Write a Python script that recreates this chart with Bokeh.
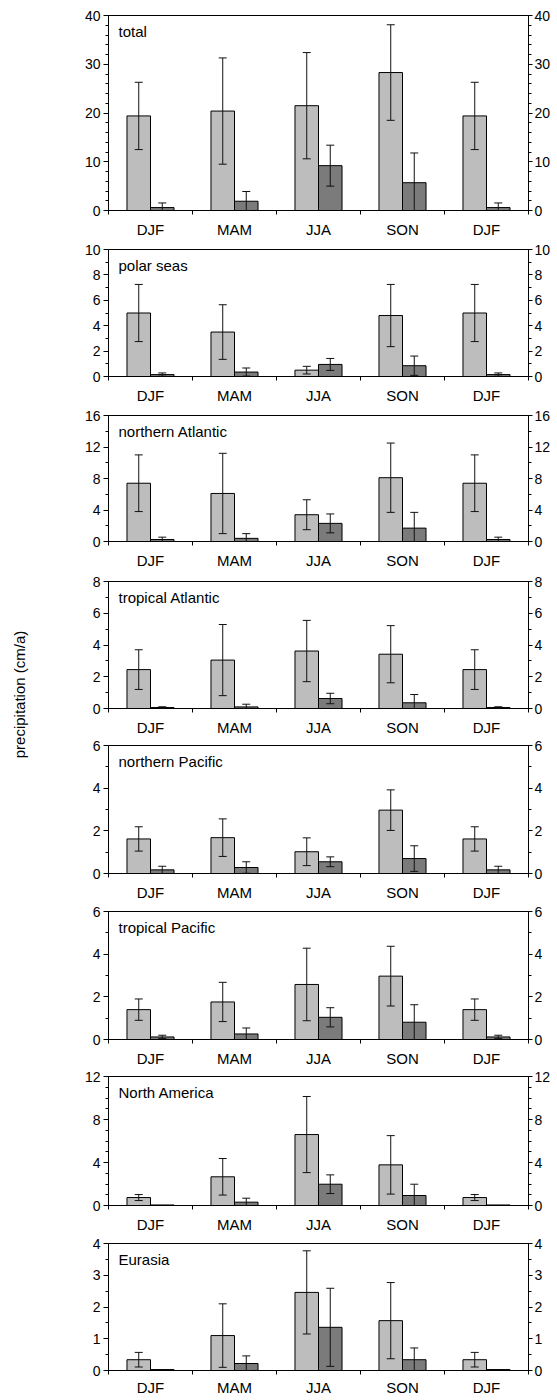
import math
from bokeh.plotting import figure
from bokeh.models import (Range1d, LinearAxis, FixedTicker, SingleIntervalTicker,
                          CustomJSTickFormatter, Whisker, TeeHead, ColumnDataSource, Label)
from bokeh.layouts import column, row
from bokeh.embed import file_html
from bokeh.resources import INLINE
from bokeh.core.properties import value

# ---------------- data ----------------
seasons = ["DJF", "MAM", "JJA", "SON", "DJF"]
regions = ["total", "polar seas", "northern Atlantic", "tropical Atlantic",
           "northern Pacific", "tropical Pacific", "North America", "Eurasia"]
y_max = [40, 10, 16, 8, 6, 6, 12, 4]
y_step = [10, 2, 4, 2, 2, 2, 4, 1]
y_minor = [5, 2, 2, 2, 2, 2, 4, 2]

total_light = [19.4, 20.4, 21.5, 28.3, 19.4]
total_light_err = [6.9, 10.9, 10.9, 9.8, 6.9]
total_dark = [0.6, 1.9, 9.2, 5.7, 0.6]
total_dark_err = [0.95, 2.0, 4.2, 6.1, 0.95]

polar_light = [5.0, 3.5, 0.5, 4.8, 5.0]
polar_light_err = [2.25, 2.15, 0.3, 2.45, 2.25]
polar_dark = [0.15, 0.35, 0.95, 0.85, 0.15]
polar_dark_err = [0.13, 0.32, 0.47, 0.76, 0.13]

natl_light = [7.4, 6.1, 3.4, 8.1, 7.4]
natl_light_err = [3.6, 5.1, 1.9, 4.4, 3.6]
natl_dark = [0.25, 0.4, 2.3, 1.7, 0.25]
natl_dark_err = [0.3, 0.6, 1.2, 2.0, 0.3]

tatl_light = [2.45, 3.05, 3.62, 3.42, 2.45]
tatl_light_err = [1.25, 2.24, 1.93, 1.8, 1.25]
tatl_dark = [0.06, 0.1, 0.63, 0.36, 0.06]
tatl_dark_err = [0.05, 0.17, 0.33, 0.52, 0.05]

npac_light = [1.62, 1.68, 1.02, 2.97, 1.62]
npac_light_err = [0.57, 0.88, 0.65, 0.95, 0.57]
npac_dark = [0.17, 0.28, 0.55, 0.7, 0.17]
npac_dark_err = [0.17, 0.27, 0.23, 0.6, 0.17]

tpac_light = [1.4, 1.76, 2.58, 2.97, 1.4]
tpac_light_err = [0.5, 0.92, 1.7, 1.4, 0.5]
tpac_dark = [0.12, 0.26, 1.04, 0.81, 0.12]
tpac_dark_err = [0.08, 0.28, 0.45, 0.82, 0.08]

nam_light = [0.74, 2.67, 6.6, 3.78, 0.74]
nam_light_err = [0.28, 1.7, 3.54, 2.72, 0.28]
nam_dark = [0.05, 0.31, 1.98, 0.93, 0.05]
nam_dark_err = [0.0, 0.37, 0.87, 1.05, 0.0]

eur_light = [0.34, 1.1, 2.46, 1.57, 0.34]
eur_light_err = [0.23, 1.0, 1.31, 1.2, 0.23]
eur_dark = [0.03, 0.22, 1.36, 0.34, 0.03]
eur_dark_err = [0.0, 0.24, 1.23, 0.37, 0.0]

light_series = [total_light, polar_light, natl_light, tatl_light,
                npac_light, tpac_light, nam_light, eur_light]
light_errors = [total_light_err, polar_light_err, natl_light_err, tatl_light_err,
                npac_light_err, tpac_light_err, nam_light_err, eur_light_err]
dark_series = [total_dark, polar_dark, natl_dark, tatl_dark,
               npac_dark, tpac_dark, nam_dark, eur_dark]
dark_errors = [total_dark_err, polar_dark_err, natl_dark_err, tatl_dark_err,
               npac_dark_err, tpac_dark_err, nam_dark_err, eur_dark_err]

# ---------------- layout ----------------
FONT = "Liberation Sans"
frame_heights = [195, 127, 126, 127, 128, 128, 129, 127]
top_borders = [15, 9, 9, 10, 7, 8, 7, 8]
bottom_borders = [30, 30, 30, 30, 30, 30, 30, 24]
label_standoffs = [6, 6, 6, 6, 6, 6, 6, 4]
FRAME_W = 420
LABEL_W = 58
LEFT_B = 50
RIGHT_B = 22
BAR_W = 0.28
LIGHT_OFF = 0.36
DARK_OFF = 0.64
LIGHT_COLOR = "#bdbdbd"
DARK_COLOR = "#7b7b7b"

xs = list(range(len(seasons)))


def make_whisker(centers, vals, errs):
    keep = [i for i in range(len(vals)) if errs[i] > 0]
    src = ColumnDataSource(dict(
        x=[centers[i] for i in keep],
        upper=[vals[i] + errs[i] for i in keep],
        lower=[max(0.0, vals[i] - errs[i]) for i in keep],
    ))
    w = Whisker(source=src, base="x", upper="upper", lower="lower",
                dimension="height", line_color="#111111", line_width=1,
                upper_head=TeeHead(size=8, line_color="#111111", line_width=1),
                lower_head=TeeHead(size=8, line_color="#111111", line_width=1),
                level="overlay")
    return w


panels = []
for k, name in enumerate(regions):
    p = figure(frame_width=FRAME_W, frame_height=frame_heights[k],
               x_range=Range1d(0, len(seasons)), y_range=Range1d(0, y_max[k]),
               output_backend="svg", toolbar_location=None,
               min_border_left=LEFT_B, min_border_right=RIGHT_B,
               min_border_top=top_borders[k], min_border_bottom=bottom_borders[k],
               background_fill_color="white", border_fill_color="white")
    p.xgrid.visible = False
    p.ygrid.visible = False
    p.outline_line_color = "black"
    p.outline_line_width = 1

    lx = [x + LIGHT_OFF for x in xs]
    dx = [x + DARK_OFF for x in xs]
    p.vbar(x=lx, top=light_series[k], bottom=0, width=BAR_W,
           fill_color=LIGHT_COLOR, line_color="black", line_width=1)
    p.vbar(x=dx, top=dark_series[k], bottom=0, width=BAR_W,
           fill_color=DARK_COLOR, line_color="black", line_width=1)
    p.add_layout(make_whisker(lx, light_series[k], light_errors[k]))
    p.add_layout(make_whisker(dx, dark_series[k], dark_errors[k]))

    # x axis
    xa = p.xaxis[0]
    xa.ticker = FixedTicker(ticks=[x + 0.5 for x in xs], minor_ticks=list(range(len(seasons) + 1)))
    xa.formatter = CustomJSTickFormatter(args=dict(seasons=seasons),
                                         code="return seasons[Math.floor(tick)];")
    xa.major_tick_out = 0
    xa.major_tick_in = 0
    xa.minor_tick_out = 4
    xa.minor_tick_in = 0
    xa.major_label_standoff = label_standoffs[k]
    xa.major_label_text_font = FONT
    xa.major_label_text_font_size = "15px"
    xa.major_label_text_color = "black"
    xa.axis_line_color = "black"

    # y axes
    ya = p.yaxis[0]
    ra = LinearAxis()
    p.add_layout(ra, "right")
    for ax in (ya, ra):
        ax.ticker = SingleIntervalTicker(interval=y_step[k], num_minor_ticks=y_minor[k])
        ax.major_tick_in = 0
        ax.minor_tick_out = 3
        ax.minor_tick_in = 0
        ax.major_label_text_font = FONT
        ax.major_label_text_font_size = "14px"
        ax.major_label_text_color = "black"
        ax.axis_line_color = "black"
    ya.major_tick_out = 5
    ya.major_label_standoff = 3
    ra.major_tick_out = 4
    ra.major_label_standoff = 2

    p.add_layout(Label(x=0, y=y_max[k], x_units="data", y_units="data",
                       x_offset=10, y_offset=-7, text=name,
                       text_baseline="top", text_align="left",
                       text_font=FONT, text_font_size="15px",
                       text_color="black"))
    panels.append(p)

total_h = sum(frame_heights) + sum(top_borders) + sum(bottom_borders)

lab = figure(frame_width=LABEL_W, frame_height=total_h,
             x_range=Range1d(0, LABEL_W), y_range=Range1d(0, total_h),
             x_axis_type=None, y_axis_type=None,
             output_backend="svg", toolbar_location=None,
             min_border=0)
lab.outline_line_color = None
lab.xgrid.visible = False
lab.ygrid.visible = False
lab.text(x=[19], y=[total_h - 694], text=["precipitation (cm/a)"],
         angle=math.pi / 2, text_align="center", text_baseline="middle",
         text_font=value(FONT), text_font_size="15px", text_color="black")

layout = row(lab, column(*panels, spacing=0), spacing=0)

with open("out.html", "w") as f:
    f.write(file_html(layout, INLINE))
